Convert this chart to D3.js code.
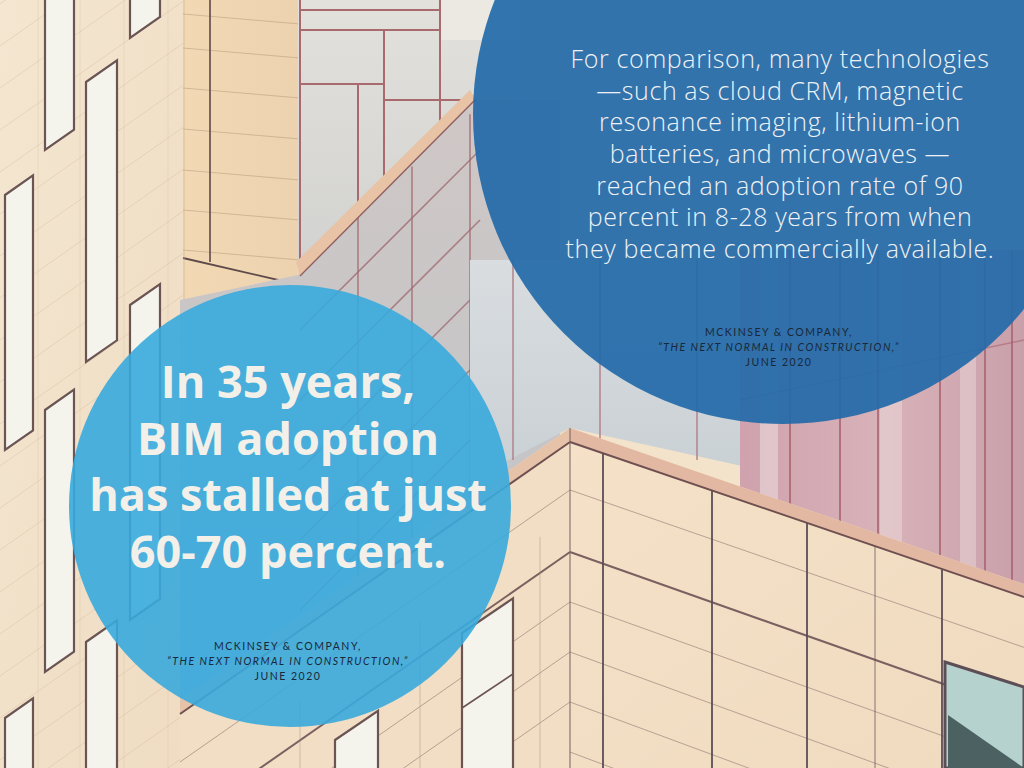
<!DOCTYPE html>
<html><head><meta charset="utf-8">
<script src="https://cdn.jsdelivr.net/npm/d3@7"></script>
<style>html,body{margin:0;padding:0;background:#f3e3cb;overflow:hidden}</style>
</head><body>
<svg id="c" width="1024" height="768"></svg>
<script>
// ---- text content ----
const headlineLines = ["In 35 years,", "BIM adoption", "has stalled at just", "60-70 percent."];
const quoteLines = [
  "For comparison, many technologies",
  "\u2014such as cloud CRM, magnetic",
  "resonance imaging, lithium-ion",
  "batteries, and microwaves \u2014",
  "reached an adoption rate of 90",
  "percent in 8-28 years from when",
  "they became commercially available."
];
const citationLines = ["MCKINSEY & COMPANY,", "\u201CTHE NEXT NORMAL IN CONSTRUCTION,\u201D", "JUNE 2020"];
const citationItalic = [false, true, false];

const svg = d3.select("#c");
const W = 1024, H = 768;
const defs = svg.append("defs");
const bg = svg.append("g");

function poly(pts, fill, op) {
  return bg.append("polygon").attr("points", pts.map(p => p.join(",")).join(" "))
    .attr("fill", fill).attr("fill-opacity", op == null ? 1 : op);
}
function line(x1, y1, x2, y2, stroke, w, op) {
  return bg.append("line").attr("x1", x1).attr("y1", y1).attr("x2", x2).attr("y2", y2)
    .attr("stroke", stroke).attr("stroke-width", w).attr("stroke-opacity", op == null ? 1 : op);
}
function grad(id, stops, x2, y2) {
  const g = defs.append("linearGradient").attr("id", id).attr("x1", 0).attr("y1", 0)
    .attr("x2", x2).attr("y2", y2);
  stops.forEach(s => g.append("stop").attr("offset", s[0]).attr("stop-color", s[1]));
  return "url(#" + id + ")";
}

// ---- left facade ----
poly([[0,0],[185,0],[185,768],[0,768]], grad("lf", [[0,"#f4e6d0"],[1,"#efdcc2"]], 1, 1));
for (let k = -6; k < 26; k++) {
  const y0 = k * 42;
  line(0, y0 + 130, 185, y0, "#c9a98a", 0.8, 0.35);
}
[38, 80, 124, 168].forEach(x => line(x, 0, x, 768, "#d2b597", 0.7, 0.35));
const s = -0.7;
const wins = [
  [5, 33, 195, 450], [45, 74, -40, 150], [45, 74, 410, 672], [86, 117, 82, 362],
  [130, 160, -40, 38], [130, 160, 305, 620], [5, 33, 718, 900], [86, 117, 642, 900]
];
wins.forEach(w => {
  const [x1, x2, t, b] = w, d = s * (x2 - x1);
  poly([[x1,t],[x2,t+d],[x2,b+d],[x1,b]], "#f5f4ec").attr("stroke", "#6b5454").attr("stroke-width", 2.2);
});

// ---- middle tan strip ----
poly([[183,0],[300,0],[300,300],[183,300]], grad("ms", [[0,"#f2d9b4"],[1,"#ecd2ae"]], 1, 0));
[18, 52, 92, 133, 174, 214, 254].forEach(y => line(183, y - 4, 300, y + 6, "#b89a7c", 0.9, 0.6));
line(210, 0, 210, 262, "#5e4a4a", 1.6);
line(183, 258, 300, 285, "#5e4a4a", 1.8);
line(184, 0, 184, 300, "#c9ad90", 1, 0.6);

// ---- upper glass building ----
poly([[298,0],[520,0],[520,100],[470,92],[298,265]], grad("ug", [[0,"#e2e1dc"],[1,"#d2d2d0"]], 0, 1));
poly([[440,0],[520,0],[520,40],[440,40]], "#ebe9e2");
[[300,0,300,270],[358,85,358,210],[384,30,384,180],[440,0,440,130]].forEach(l => line(l[0],l[1],l[2],l[3],"#a86a6e",2));
[[300,10,440,10],[300,84,384,84],[384,100,470,100],[300,30,440,30]].forEach(l => line(l[0],l[1],l[2],l[3],"#a86a6e",2));
poly([[298,275],[470,100],[560,100],[560,440],[180,700],[180,300]], grad("lg", [[0,"#cfc7c6"],[1,"#bfc4c8"]], 0, 1));
for (let k = 0; k < 5; k++) line(300, 330 + k * 70, 480, 150 + k * 70, "#a06c70", 1.6, 0.8);
[358, 412, 470].forEach(x => line(x, 215 - (x - 358) * 0.9, x, 600, "#a06c70", 1.6, 0.8));
poly([[296,262],[470,90],[476,99],[300,276]], "#e8c3a6");
line(300, 276, 476, 99, "#8e6060", 1.4);

// ---- glass between circles ----
poly([[470,260],[760,260],[760,470],[570,428],[470,480]], grad("mg", [[0,"#d9dde0"],[1,"#c9d0d4"]], 0, 1));
[513, 600, 697].forEach(x => line(x, 260, x, 460, "#b08088", 1.6, 0.9));
poly([[740,250],[1024,250],[1024,590],[740,520]], grad("pg", [[0,"#cfa2ad"],[0.5,"#d8b2b9"],[1,"#c9a0aa"]], 1, 0));
[[760,"#eadbdc",18],[880,"#e7d3d6",22],[960,"#e4d0d3",16]].forEach(v => poly([[v[0],250],[v[0]+v[2],250],[v[0]+v[2],600],[v[0],600]], v[1], 0.6));
[790, 840, 878, 940, 985, 1012].forEach(x => line(x, 250, x, 600, "#a8636e", 1.8, 0.9));
line(740, 400, 1024, 340, "#a8636e", 1.4, 0.6);

// ---- lower right building ----
const beige = grad("lb", [[0,"#f4e1c7"],[1,"#f0dbc0"]], 1, 1);
poly([[570,428],[180,700],[180,768],[570,768]], "#f1dec4");
poly([[570,428],[1024,584],[1024,768],[570,768]], beige);
poly([[570,428],[1024,584],[1024,597],[570,442]], "#e3b8a2");
poly([[570,428],[180,700],[180,714],[570,442]], "#e6c2a8");
line(570, 442, 1024, 597, "#6e5050", 2);
line(570, 442, 180, 714, "#6e5050", 2);
line(570, 428, 570, 768, "#6e5a5a", 1.2, 0.8);
[48, 110, 160, 210, 260, 310].forEach((o, i) => {
  line(570, 442 + o, 1024, 597 + o * 1.05, "#7a6060", i === 1 ? 2 : 0.9, i === 1 ? 1 : 0.55);
});
[48, 110, 160, 210, 260].forEach((o, i) => {
  line(570, 442 + o, 180, 714 + o, "#7a6060", i === 1 ? 2 : 0.9, i === 1 ? 1 : 0.55);
});
[[603,2],[712,2],[807,2],[875,0.8],[942,2]].forEach(v => line(v[0], 442 + (v[0]-570)*0.342, v[0], 768, "#5d4d55", v[1], 0.9));
poly([[945,662],[1024,687],[1024,768],[945,768]], "#b6d2cf").attr("stroke", "#5c4e55").attr("stroke-width", 3);
poly([[948,715],[1024,768],[948,768]], "#4c6262");
[[335, 378, 740], [462, 513, 633]].forEach(w => {
  const [x1, x2, t] = w, d = -0.68 * (x2 - x1);
  poly([[x1,t],[x2,t+d],[x2,900],[x1,900]], "#f5f4ec").attr("stroke", "#6b5454").attr("stroke-width", 2.2);
});
line(462, 708, 513, 674, "#6b5454", 1.6);
[300, 420, 540].forEach(x => line(x, 700 - (x - 300) * 0.68, x, 768, "#a89080", 0.8, 0.6));

// ---- circles ----
svg.append("circle").attr("cx", 783).attr("cy", 114).attr("r", 310)
  .attr("fill", "#236aa9").attr("fill-opacity", 0.93);
svg.append("circle").attr("cx", 290).attr("cy", 506).attr("r", 221)
  .attr("fill", "#38aadd").attr("fill-opacity", 0.9);

// ---- headline ----
const hy = d3.scaleLinear().domain([0, headlineLines.length - 1]).range([398, 568]);
svg.append("g").selectAll("text").data(headlineLines).join("text")
  .attr("x", 288).attr("y", (d, i) => hy(i))
  .attr("text-anchor", "middle")
  .style("font-family", "'Open Sans', sans-serif").style("font-weight", 700)
  .style("font-size", "45px").attr("fill", "#f3f0e9")
  .text(d => d);

// ---- quote ----
const qy = d3.scaleLinear().domain([0, quoteLines.length - 1]).range([68, 258]);
svg.append("g").selectAll("text").data(quoteLines).join("text")
  .attr("x", 780).attr("y", (d, i) => qy(i))
  .attr("text-anchor", "middle")
  .style("font-family", "'Open Sans', sans-serif").style("font-weight", 300)
  .style("font-size", "25px").style("letter-spacing", "0.6px").attr("fill", "#eef2f6")
  .text(d => d);

// ---- citations ----
function citation(cx, y0) {
  svg.append("g").selectAll("text").data(citationLines).join("text")
    .attr("x", cx).attr("y", (d, i) => y0 + i * 14.8)
    .attr("text-anchor", "middle")
    .style("font-family", "Lato, sans-serif").style("font-size", "10.5px")
    .style("letter-spacing", "1.5px")
    .style("font-style", (d, i) => citationItalic[i] ? "italic" : "normal")
    .attr("fill", "#1a2839")
    .text(d => d);
}
citation(779, 336);
citation(288, 650);
</script>
</body></html>
